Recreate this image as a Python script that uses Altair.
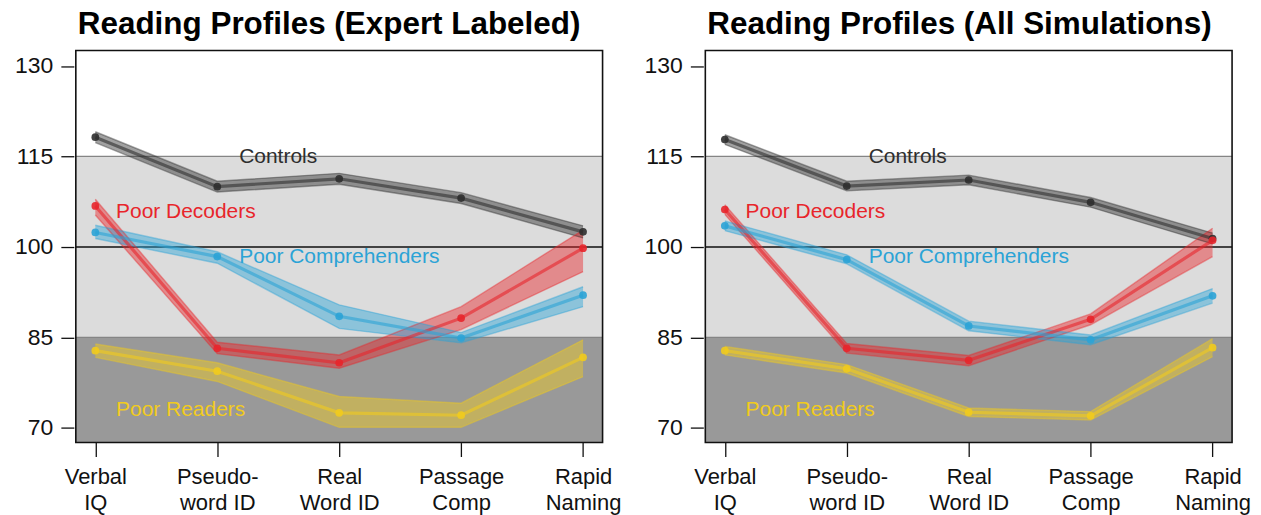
import json

import altair as alt
import pandas as pd

# ---------------------------------------------------------------- data
measure_lines = [
    ["Verbal", "IQ"],
    ["Pseudo-", "word ID"],
    ["Real", "Word ID"],
    ["Passage", "Comp"],
    ["Rapid", "Naming"],
]
measure_pos = [1, 2, 3, 4, 5]
groups = ["Controls", "Poor Decoders", "Poor Comprehenders", "Poor Readers"]
group_colors = ["#2e2e2e", "#e8252b", "#2ba3d6", "#f1cb1d"]

# Expert-labeled profiles: mean standard score and interval bounds
expert_controls = [118.2, 110.0, 111.3, 108.1, 102.5]
expert_controls_lo = [117.3, 109.1, 110.4, 107.2, 101.5]
expert_controls_hi = [119.1, 110.9, 112.2, 109.0, 103.5]
expert_decoders = [106.8, 83.2, 80.8, 88.2, 99.8]
expert_decoders_lo = [105.3, 82.3, 79.9, 86.3, 95.9]
expert_decoders_hi = [107.9, 84.2, 82.1, 90.1, 102.8]
expert_comprehenders = [102.4, 98.4, 88.5, 84.9, 92.0]
expert_comprehenders_lo = [101.4, 97.3, 86.5, 84.1, 90.1]
expert_comprehenders_hi = [103.6, 99.2, 90.4, 85.8, 93.4]
expert_readers = [82.8, 79.4, 72.5, 72.1, 81.7]
expert_readers_lo = [81.7, 77.7, 70.1, 70.1, 78.5]
expert_readers_hi = [83.9, 80.8, 75.2, 74.1, 84.6]

# Profiles over all simulations
sim_controls = [117.8, 110.1, 111.1, 107.4, 101.4]
sim_controls_lo = [117.0, 109.3, 110.3, 106.6, 100.5]
sim_controls_hi = [118.6, 110.9, 111.9, 108.2, 102.3]
sim_decoders = [106.2, 83.2, 81.2, 88.0, 101.1]
sim_decoders_lo = [105.4, 82.4, 80.3, 87.1, 98.4]
sim_decoders_hi = [107.0, 84.0, 82.0, 88.9, 103.1]
sim_comprehenders = [103.5, 97.9, 86.9, 84.6, 91.9]
sim_comprehenders_lo = [102.7, 97.2, 86.1, 83.8, 90.7]
sim_comprehenders_hi = [104.3, 98.7, 87.7, 85.4, 93.1]
sim_readers = [82.8, 79.8, 72.6, 72.0, 83.3]
sim_readers_lo = [82.1, 79.1, 71.9, 71.3, 81.8]
sim_readers_hi = [83.5, 80.5, 73.3, 72.7, 84.8]

# score bands shaded behind the profiles
band_light = [85, 115]
band_dark_top = 85
reference_mean = 100

# ---------------------------------------------------------------- layout
W, H = 528, 393
Y_DOMAIN = [67.57, 132.57]
X_DOMAIN = [0.84, 5.16]
FONT = "Liberation Sans"

# where each group name is written (data units)
label_x = [2.18, 1.17, 2.18, 1.17]
label_y = [114.9, 105.8, 98.4, 73.0]


def profile_frame(series):
    rows = []
    for name, (mean, lo, hi) in zip(groups, series):
        for p, m, l, h in zip(measure_pos, mean, lo, hi):
            rows.append({"group": name, "pos": p, "mean": m, "lo": l, "hi": h})
    return pd.DataFrame(rows)


expert_df = profile_frame([
    (expert_controls, expert_controls_lo, expert_controls_hi),
    (expert_decoders, expert_decoders_lo, expert_decoders_hi),
    (expert_comprehenders, expert_comprehenders_lo, expert_comprehenders_hi),
    (expert_readers, expert_readers_lo, expert_readers_hi),
])
sim_df = profile_frame([
    (sim_controls, sim_controls_lo, sim_controls_hi),
    (sim_decoders, sim_decoders_lo, sim_decoders_hi),
    (sim_comprehenders, sim_comprehenders_lo, sim_comprehenders_hi),
    (sim_readers, sim_readers_lo, sim_readers_hi),
])
label_df = pd.DataFrame({"group": groups, "lx": label_x, "ly": label_y})

color = alt.Color(
    "group:N",
    scale=alt.Scale(domain=groups, range=group_colors),
    legend=None,
)
x_scale = alt.Scale(domain=X_DOMAIN, nice=False, zero=False)
y_scale = alt.Scale(domain=Y_DOMAIN, nice=False, zero=False)

x_axis = alt.Axis(
    values=measure_pos,
    labelExpr=f"{json.dumps(measure_lines)}[datum.value - 1]",
    title=None,
    grid=False,
    domain=False,
    tickSize=14,
    tickColor="#111111",
    tickWidth=1.3,
    labelFontSize=22,
    labelLineHeight=26,
    labelPadding=10,
    labelFlush=False,
    labelOverlap=False,
    labelColor="#111111",
    labelFont=FONT,
)
y_axis = alt.Axis(
    values=[70, 85, 100, 115, 130],
    title=None,
    grid=False,
    domain=False,
    offset=2,
    tickSize=13,
    tickColor="#111111",
    tickWidth=1.3,
    labelFontSize=23,
    labelPadding=8,
    labelOverlap=False,
    labelColor="#111111",
    labelFont=FONT,
)


def panel(df, title):
    base = alt.Chart(df)

    light = alt.Chart(pd.DataFrame({"lo": [band_light[0]], "hi": [band_light[1]]})).mark_rect(
        color="#dcdcdc"
    ).encode(
        x=alt.value(0), x2=alt.value(W),
        y=alt.Y("lo:Q", scale=y_scale, axis=y_axis), y2="hi:Q",
    )
    dark = alt.Chart(pd.DataFrame({"lo": [Y_DOMAIN[0]], "hi": [band_dark_top]})).mark_rect(
        color="#999999"
    ).encode(
        x=alt.value(0), x2=alt.value(W),
        y=alt.Y("lo:Q", scale=y_scale), y2="hi:Q",
    )
    edge_rules = alt.Chart(pd.DataFrame({"v": band_light})).mark_rule(
        color="#858585", strokeWidth=1.2
    ).encode(y=alt.Y("v:Q", scale=y_scale))
    mean_rule = alt.Chart(pd.DataFrame({"v": [reference_mean]})).mark_rule(
        color="#111111", strokeWidth=1.6
    ).encode(y=alt.Y("v:Q", scale=y_scale))

    x = alt.X("pos:Q", scale=x_scale, axis=x_axis)
    area = base.mark_area(opacity=0.45).encode(
        x=x, y=alt.Y("lo:Q", scale=y_scale), y2="hi:Q", color=color
    )
    lo_line = base.mark_line(strokeWidth=1.4, opacity=0.42).encode(
        x=x, y=alt.Y("lo:Q", scale=y_scale), color=color, detail="group:N"
    )
    hi_line = base.mark_line(strokeWidth=1.4, opacity=0.42).encode(
        x=x, y=alt.Y("hi:Q", scale=y_scale), color=color, detail="group:N"
    )
    mean_line = base.mark_line(strokeWidth=3.2, opacity=0.6).encode(
        x=x, y=alt.Y("mean:Q", scale=y_scale), color=color
    )
    points = base.mark_circle(size=60, opacity=0.9).encode(
        x=x, y=alt.Y("mean:Q", scale=y_scale), color=color
    )
    names = alt.Chart(label_df).mark_text(
        align="left", baseline="middle", fontSize=21, font=FONT
    ).encode(
        x=alt.X("lx:Q", scale=x_scale),
        y=alt.Y("ly:Q", scale=y_scale),
        text="group:N",
        color=color,
    )
    # plot box drawn last so the shaded bands do not hide it
    frame = alt.Chart(pd.DataFrame({"v": [0]})).mark_rect(
        filled=False, stroke="#111111", strokeWidth=1.6
    ).encode(x=alt.value(0), x2=alt.value(W), y=alt.value(0), y2=alt.value(H))

    return alt.layer(
        light, dark, edge_rules, mean_rule,
        area, lo_line, hi_line, mean_line, points, names, frame,
    ).properties(
        width=W,
        height=H,
        title=alt.TitleParams(
            title,
            fontSize=31.5,
            fontWeight="bold",
            font=FONT,
            color="#000000",
            anchor="start",
            frame="group",
            baseline="alphabetic",
            offset=-16,
            dx=2,
        ),
    )


chart = alt.hconcat(
    panel(expert_df, "Reading Profiles (Expert Labeled)"),
    panel(sim_df, "Reading Profiles (All Simulations)"),
    spacing=103,
    bounds="flush",
    padding={"left": 14, "top": 8, "right": 10, "bottom": 2},
).configure(
    background="white",
    view=alt.ViewConfig(stroke=None, fill="white"),
)

chart.save("out.html", embed_options={"renderer": "svg", "actions": False})
